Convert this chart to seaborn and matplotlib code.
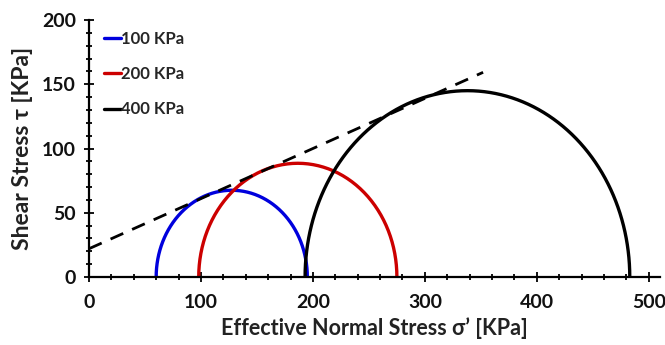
import numpy as np
import pandas as pd
import matplotlib
matplotlib.use("Agg")
import matplotlib.pyplot as plt
from matplotlib.ticker import MultipleLocator
import seaborn as sns

# Mohr circles at failure: confining pressure, minor and major principal stresses (kPa)
labels = ["100 KPa", "200 KPa", "400 KPa"]
sigma3 = [60, 98, 193]
sigma1 = [195, 275, 483]
colors = ["#0000dd", "#cc0000", "#000000"]

# Failure envelope: cohesion (kPa), slope tan(phi), end of drawn line (kPa)
cohesion = 22
tan_phi = 0.39
envelope_x = [0, 352]

sns.set_theme(style="white")
plt.rcParams["font.family"] = ["Lato", "DejaVu Sans"]
plt.rcParams["font.weight"] = "bold"

rows = []
theta = np.linspace(0, np.pi, 181)
for lab, s3, s1 in zip(labels, sigma3, sigma1):
    c = (s1 + s3) / 2
    r = (s1 - s3) / 2
    for t in theta[::-1]:
        rows.append({"sigma": c + r * np.cos(t), "tau": r * np.sin(t), "test": lab})
df = pd.DataFrame(rows)

fig = plt.figure(figsize=(6.65, 3.45), dpi=100)
ax = fig.add_axes([89 / 665, 68 / 345, 571 / 665, 257 / 345])

sns.lineplot(data=df, x="sigma", y="tau", hue="test", palette=colors,
             sort=False, estimator=None, linewidth=2.4, ax=ax)

env = pd.DataFrame({"x": envelope_x,
                    "y": [cohesion + tan_phi * v for v in envelope_x]})
sns.lineplot(data=env, x="x", y="y", color="black", linewidth=2,
             ax=ax, legend=False)
ax.lines[-1].set_dashes((5, 3.5))

ax.set_xlim(0, 510)
ax.set_ylim(0, 200)
ax.xaxis.set_major_locator(MultipleLocator(100))
ax.xaxis.set_minor_locator(MultipleLocator(20))
ax.yaxis.set_major_locator(MultipleLocator(50))
ax.yaxis.set_minor_locator(MultipleLocator(10))
ax.tick_params(which="both", direction="inout", color="black", width=1.3,
               bottom=True, left=True)
ax.tick_params(which="major", length=7, labelsize=14)
ax.tick_params(axis="x", which="major", pad=9)
ax.tick_params(axis="y", which="major", pad=6)
ax.tick_params(which="minor", length=5)
for lbl in ax.get_xticklabels() + ax.get_yticklabels():
    lbl.set_fontweight("bold")
    lbl.set_color("#111111")

for side in ["top", "right"]:
    ax.spines[side].set_visible(False)
for side in ["left", "bottom"]:
    ax.spines[side].set_color("black")
    ax.spines[side].set_linewidth(1.6)

ax.set_xlabel("Effective Normal Stress σ’ [KPa]", fontsize=15.5,
              fontweight="bold", color="#222222", labelpad=4)
ax.set_ylabel("Shear Stress τ [KPa]", fontsize=16.5,
              fontweight="bold", color="#222222", labelpad=6)

leg = ax.legend(loc="upper left", frameon=False, handlelength=1.0,
                handletextpad=0.0, labelspacing=1.15, fontsize=12,
                bbox_to_anchor=(0.0, 1.015))
for t in leg.get_texts():
    t.set_fontweight("bold")

fig.savefig("out.png", dpi=100)
